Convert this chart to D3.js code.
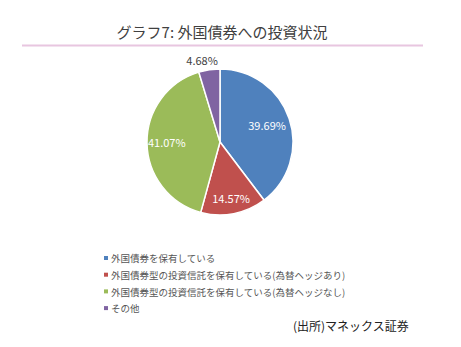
<!DOCTYPE html>
<html>
<head>
<meta charset="utf-8">
<script src="https://cdn.jsdelivr.net/npm/d3@7"></script>
<style>
  html, body { margin: 0; padding: 0; background: #fff; }
  svg { display: block; }
</style>
</head>
<body>
<svg id="chart" width="461" height="347"></svg>
<script>
const categories = [
  "外国債券を保有している",
  "外国債券型の投資信託を保有している(為替ヘッジあり)",
  "外国債券型の投資信託を保有している(為替ヘッジなし)",
  "その他"
];
const values = [39.69, 14.57, 41.07, 4.68];
const colors = ["#4F81BD", "#C0504D", "#9BBB59", "#8064A2"];

const svg = d3.select("#chart");
const font = "'Noto Sans CJK JP', 'Noto Sans', sans-serif";

// title and rule beneath it
svg.append("text")
  .attr("x", 222).attr("y", 38)
  .attr("text-anchor", "middle")
  .attr("font-family", font)
  .attr("font-size", 15)
  .attr("fill", "#404040")
  .text("グラフ7: 外国債券への投資状況");
svg.append("line")
  .attr("x1", 22).attr("x2", 423)
  .attr("y1", 45.5).attr("y2", 45.5)
  .attr("stroke", "#E8C6E0").attr("stroke-width", 2);

// pie
const cx = 220, cy = 142, r = 73;
const pie = d3.pie().sort(null).value(d => d)(values);
const arc = d3.arc().innerRadius(0).outerRadius(r);
const g = svg.append("g").attr("transform", `translate(${cx},${cy})`);
g.selectAll("path").data(pie).join("path")
  .attr("d", arc)
  .attr("fill", (d, i) => colors[i])
  .attr("stroke", "#fff").attr("stroke-width", 1.5);

// value labels: inside for large slices, outside for the small one
const labelRadius = [0.68, 0.8, 0.73, 1.12];
g.selectAll("text.val").data(pie).join("text")
  .attr("class", "val")
  .attr("transform", (d, i) => {
    const a = (d.startAngle + d.endAngle) / 2;
    const rr = r * labelRadius[i];
    const dx = i === 3 ? -6 : 0;
    return `translate(${Math.sin(a) * rr + dx},${-Math.cos(a) * rr})`;
  })
  .attr("dy", "0.35em")
  .attr("text-anchor", "middle")
  .attr("font-family", font)
  .attr("font-size", 11)
  .attr("fill", (d, i) => i === 3 ? "#404040" : "#fff")
  .text(d => d.data.toFixed(2) + "%");

// legend
const leg = svg.append("g").attr("transform", "translate(104,259)");
const rows = leg.selectAll("g").data(categories).join("g")
  .attr("transform", (d, i) => `translate(0,${i * 16.7})`);
rows.append("rect")
  .attr("x", 0).attr("y", -3).attr("width", 4).attr("height", 4)
  .attr("fill", (d, i) => colors[i]);
rows.append("text")
  .attr("x", 7).attr("y", 0).attr("dy", "0.35em")
  .attr("font-family", font)
  .attr("font-size", 9.5)
  .attr("fill", "#555")
  .text(d => d);

// source note
svg.append("text")
  .attr("x", 293).attr("y", 331)
  .attr("font-family", font)
  .attr("font-size", 12)
  .attr("fill", "#222")
  .text("(出所)マネックス証券");
</script>
</body>
</html>
